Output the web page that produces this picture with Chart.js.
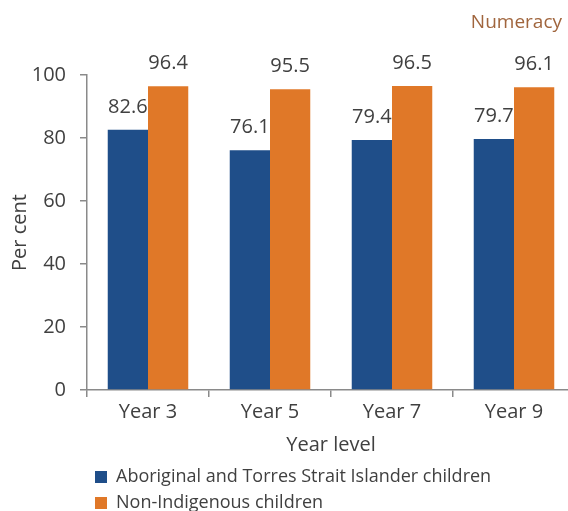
<!DOCTYPE html>
<html>
<head>
<meta charset="utf-8">
<script src="https://cdn.jsdelivr.net/npm/chart.js@4/dist/chart.umd.min.js"></script>
<style>
  html, body { margin: 0; padding: 0; background: #ffffff; }
  #wrap { width: 568px; height: 511px; overflow: hidden; position: relative; }
  canvas { display: block; }
</style>
</head>
<body>
<div id="wrap"><canvas id="c" width="576" height="522" style="width:576px;height:522px"></canvas></div>
<script>
const categories = ["Year 3", "Year 5", "Year 7", "Year 9"];
const seriesNames = ["Aboriginal and Torres Strait Islander children", "Non-Indigenous children"];
const indigenousValues = [82.6, 76.1, 79.4, 79.7];
const nonIndigenousValues = [96.4, 95.5, 96.5, 96.1];
const yTicks = [0, 20, 40, 60, 80, 100];

const FONT = "'Open Sans', 'Noto Sans', sans-serif";
const TEXT = "#404040";
const AXIS = "#8a8a8a";

const dataLabels = {
  id: "dataLabels",
  afterDatasetsDraw(chart) {
    const ctx = chart.ctx;
    ctx.save();
    ctx.font = "20px " + FONT;
    ctx.fillStyle = TEXT;
    ctx.textAlign = "center";
    ctx.textBaseline = "middle";
    chart.data.datasets.forEach((ds, di) => {
      const meta = chart.getDatasetMeta(di);
      meta.data.forEach((bar, i) => {
        ctx.fillText(ds.data[i].toFixed(1), bar.x, bar.y - 23);
      });
    });
    ctx.restore();
  }
};

const placeBlocks = {
  id: "placeBlocks",
  afterLayout(chart) {
    if (chart.titleBlock) chart.titleBlock.right = 562;
    if (chart.legend) chart.legend.left = 87;
  }
};

new Chart(document.getElementById("c"), {
  type: "bar",
  data: {
    labels: categories,
    datasets: [
      { label: seriesNames[0], data: indigenousValues, backgroundColor: "#1F4E89", borderWidth: 0 },
      { label: seriesNames[1], data: nonIndigenousValues, backgroundColor: "#E07828", borderWidth: 0 }
    ]
  },
  options: {
    responsive: false,
    animation: false,
    devicePixelRatio: 1,
    layout: { padding: { left: 0, right: 1, top: 0, bottom: 0 } },
    datasets: { bar: { categoryPercentage: 0.66, barPercentage: 1.0 } },
    scales: {
      x: {
        grid: { display: true, drawOnChartArea: false, drawTicks: true, tickLength: 7, color: AXIS, lineWidth: 1.5 },
        border: { display: true, color: AXIS, width: 1.5 },
        ticks: { color: TEXT, font: { family: FONT, size: 20 }, padding: 3, maxRotation: 0 },
        title: { display: true, text: "Year level", color: TEXT, font: { family: FONT, size: 20 }, padding: { top: 0, bottom: 3 } },
        afterFit(scale) { scale.height = 70; }
      },
      y: {
        min: 0,
        max: 100,
        afterBuildTicks(scale) { scale.ticks = yTicks.map(v => ({ value: v })); },
        grid: { display: true, drawOnChartArea: false, drawTicks: true, tickLength: 7, color: AXIS, lineWidth: 1.5 },
        border: { display: true, color: AXIS, width: 1.5 },
        ticks: { color: TEXT, font: { family: FONT, size: 20 }, padding: 14 },
        title: { display: true, text: "Per cent", color: TEXT, font: { family: FONT, size: 20 }, padding: { top: 8, bottom: 0 } },
        afterFit(scale) { scale.width = 87; }
      }
    },
    plugins: {
      title: {
        display: true,
        text: "Numeracy",
        align: "end",
        color: "#A0653D",
        font: { family: FONT, size: 19, weight: "normal" },
        padding: { top: 11.6, bottom: 40.6 }
      },
      legend: {
        display: true,
        position: "bottom",
        align: "start",
        labels: {
          color: TEXT,
          font: { family: FONT, size: 18 },
          boxWidth: 12,
          boxHeight: 12,
          padding: 8
        }
      },
      tooltip: { enabled: false }
    }
  },
  plugins: [dataLabels, placeBlocks]
});
</script>
</body>
</html>
